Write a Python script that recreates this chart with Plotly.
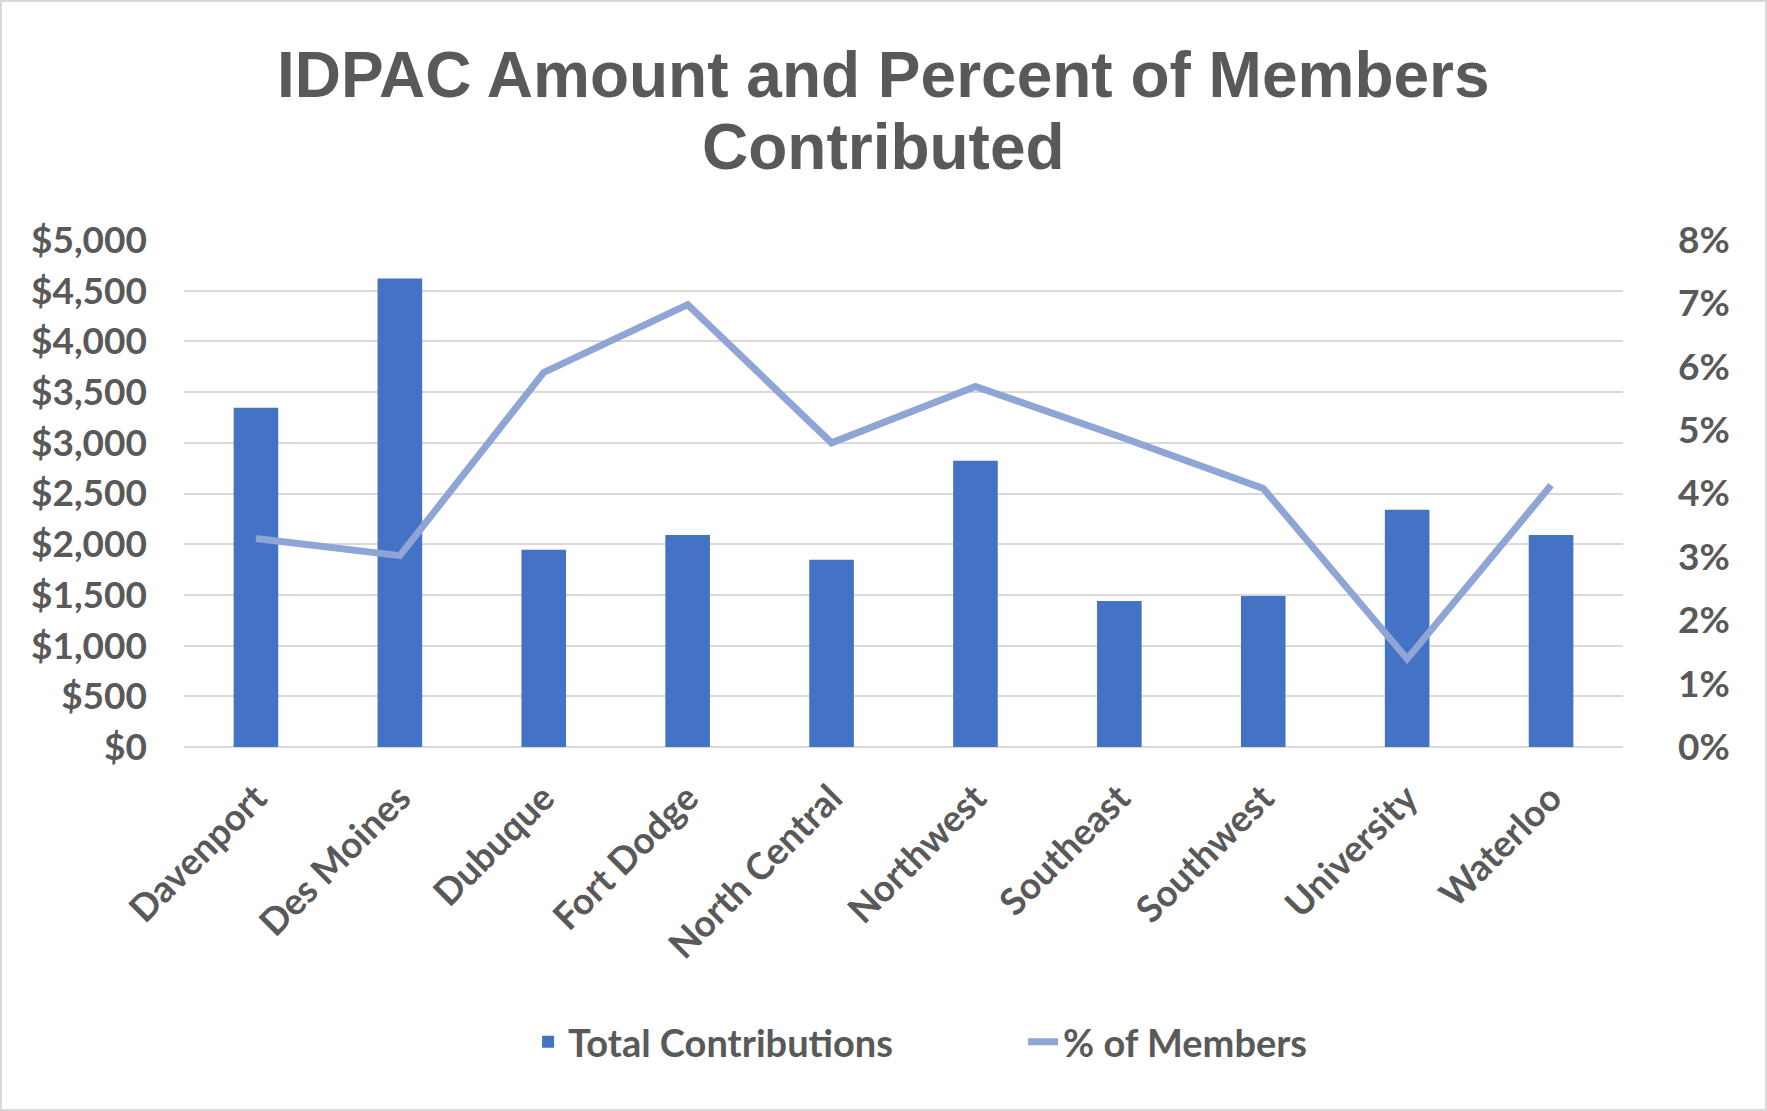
import plotly.graph_objects as go

categories = ["Davenport", "Des Moines", "Dubuque", "Fort Dodge", "North Central",
              "Northwest", "Southeast", "Southwest", "University", "Waterloo"]
total_contributions = [3345, 4620, 1945, 2090, 1846, 2822, 1440, 1488, 2339, 2090]
pct_members = [0.0329, 0.0302, 0.0591, 0.0698, 0.0480, 0.0569, 0.0490, 0.0408, 0.0139, 0.0413]
title_lines = ["IDPAC Amount and Percent of Members", "Contributed"]

W, H = 1767, 1111
ML, MR, MT, MB = 184, 144, 240, 364
TEXT = "#595959"
GRID = "#D9D9D9"
FONT = "Lato"
FS = 37

fig = go.Figure()
fig.add_trace(go.Bar(
    x=categories, y=total_contributions, name="Total Contributions",
    marker=dict(color="#4472C4", line=dict(width=0)), yaxis="y",
))
fig.add_trace(go.Scatter(
    x=categories, y=pct_members, name="% of Members", mode="lines",
    line=dict(color="#8FA5D5", width=7), yaxis="y2",
))

pw = W - ML - MR
ph = H - MT - MB
tick_font = dict(family=FONT, size=FS, color=TEXT, weight=700)

fig.update_layout(
    width=W, height=H,
    margin=dict(l=ML, r=MR, t=MT, b=MB, pad=0, autoexpand=False),
    paper_bgcolor="white", plot_bgcolor="white",
    bargap=0.69,
    font=dict(family=FONT, color=TEXT, size=FS, weight=700),
    xaxis=dict(
        type="category", tickangle=-45, showgrid=False, showline=False,
        ticks="", ticklabelstandoff=21, automargin=False, tickfont=tick_font,
    ),
    yaxis=dict(
        range=[0, 5000], dtick=500, tickprefix="$", tickformat=",",
        showgrid=True, gridcolor=GRID, gridwidth=2,
        zeroline=True, zerolinecolor=GRID, zerolinewidth=2,
        showline=False, ticks="", ticklabelstandoff=36, automargin=False,
        tickfont=tick_font,
    ),
    yaxis2=dict(
        range=[0, 0.08], dtick=0.01, tickformat=".0%",
        overlaying="y", side="right", showgrid=False, zeroline=False,
        showline=False, ticks="", ticklabelstandoff=54, automargin=False,
        tickfont=tick_font,
    ),
    legend=dict(
        orientation="h", xref="container", x=0.579, xanchor="center",
        y=-(1042 - (H - MB)) / ph, yanchor="middle",
        font=dict(family=FONT, size=38, color=TEXT, weight=700),
        entrywidth=450, entrywidthmode="pixels",
        bgcolor="rgba(0,0,0,0)",
    ),
    annotations=[
        dict(text=title_lines[0], xref="paper", yref="paper",
             x=0.5 + (W / 2 - (ML + pw / 2)) / pw, y=1 + (MT - 75) / ph,
             xanchor="center", yanchor="middle", showarrow=False,
             font=dict(family="Liberation Sans", size=64, color=TEXT, weight=700)),
        dict(text=title_lines[1], xref="paper", yref="paper",
             x=0.5 + (W / 2 - (ML + pw / 2)) / pw, y=1 + (MT - 147) / ph,
             xanchor="center", yanchor="middle", showarrow=False,
             font=dict(family="Liberation Sans", size=64, color=TEXT, weight=700)),
    ],
    shapes=[dict(
        type="rect", xref="paper", yref="paper",
        x0=-ML / pw + 1 / pw, x1=1 + MR / pw - 1 / pw,
        y0=-MB / ph + 1 / ph, y1=1 + MT / ph - 1 / ph,
        line=dict(color=GRID, width=2), fillcolor="rgba(0,0,0,0)", layer="below",
    )],
)

fig.write_html("out.html", config={"displayModeBar": False},
               post_script="document.body.style.margin='0px';document.body.style.overflow='hidden';")
